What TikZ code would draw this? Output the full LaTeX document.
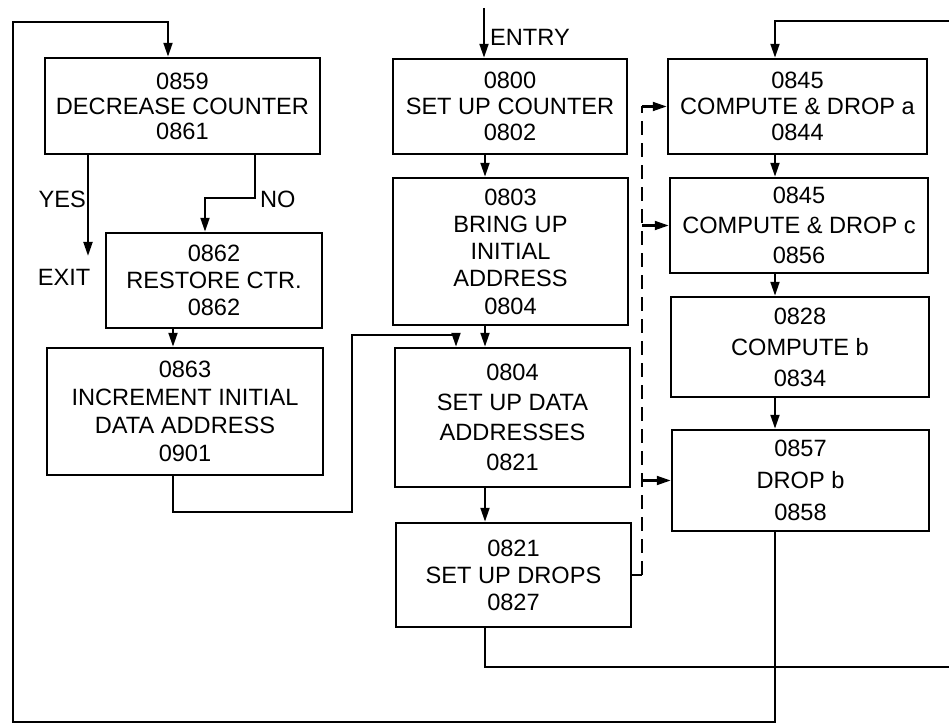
\documentclass[tikz,border=0pt]{standalone}
\usepackage{fontspec}
\setmainfont{Liberation Sans}
\usetikzlibrary{arrows.meta}

\begin{document}
\begin{tikzpicture}[x=0.5pt,y=-0.5pt,line width=1.2pt,>={Triangle[length=7pt,width=4.4pt]},
  blk/.style={draw,inner sep=0pt,align=center,font=\fontsize{11.8}{14}\selectfont},
  lbl/.style={inner sep=0pt,font=\fontsize{11.8}{14}\selectfont},
  bus/.style={line width=1.4pt,dash pattern=on 7pt off 4pt}]
  \useasboundingbox (0,0) rectangle (949,726);
  % left column
  \node[blk,minimum width=137.5pt,minimum height=48pt,font=\fontsize{11.8}{12.5}\selectfont] (b859) at (182.5,106) {0859\\DECREASE COUNTER\\0861};
  \node[blk,minimum width=108pt,minimum height=47.5pt,font=\fontsize{11.8}{13.5}\selectfont] (b862) at (214,280.5) {0862\\RESTORE CTR.\\0862};
  \node[blk,minimum width=138pt,minimum height=63.5pt] (b863) at (185,411.5) {0863\\INCREMENT INITIAL\\DATA ADDRESS\\0901};
  % middle column
  \node[blk,minimum width=117pt,minimum height=47.5pt,font=\fontsize{11.8}{13}\selectfont] (b800) at (510,106.5) {0800\\SET UP COUNTER\\0802};
  \node[blk,minimum width=117.5pt,minimum height=73.5pt,font=\fontsize{11.8}{13.6}\selectfont] (b803) at (510.5,251.5) {0803\\BRING UP\\INITIAL\\ADDRESS\\0804};
  \node[blk,minimum width=117.5pt,minimum height=69.5pt,font=\fontsize{11.8}{15}\selectfont] (b804) at (512.5,417.5) {0804\\SET UP DATA\\ADDRESSES\\0821};
  \node[blk,minimum width=117.5pt,minimum height=52pt,font=\fontsize{11.8}{13.5}\selectfont] (b821) at (513.5,575) {0821\\SET UP DROPS\\0827};
  % right column
  \node[blk,minimum width=129.5pt,minimum height=47.5pt,font=\fontsize{11.8}{13}\selectfont] (b845a) at (797.5,106.5) {0845\\COMPUTE \& DROP a\\0844};
  \node[blk,minimum width=129pt,minimum height=47.5pt,font=\fontsize{11.8}{15}\selectfont] (b845c) at (799,225.5) {0845\\COMPUTE \& DROP c\\0856};
  \node[blk,minimum width=129pt,minimum height=50pt,font=\fontsize{11.8}{15.5}\selectfont] (b828) at (800,347) {0828\\COMPUTE b\\0834};
  \node[blk,minimum width=128.5pt,minimum height=50.5pt,font=\fontsize{11.8}{16}\selectfont] (b857) at (800.5,480.5) {0857\\DROP b\\0858};

  \coordinate (entry) at (484,8);
  \coordinate (cm) at (485,0);
  \coordinate (rc) at (775,0);
  \coordinate (cl) at (173,0);
  \coordinate (bus) at (642,0);
  \coordinate (ent859) at (168,22);
  \coordinate (lp) at (13,722);
  \coordinate (rtop) at (949,21);
  \coordinate (rbot) at (949,667);
  \coordinate (exitpt) at (88,256);
  \coordinate (nobend) at (255,198);
  \coordinate (no2) at (205,198);
  \coordinate (jn) at (456,335);

  \draw[->] (entry) -- (entry |- b800.north);
  \node[lbl,anchor=west] (entrylbl) at (489,37) {ENTRY};
  \draw[->] (b800.south -| cm) -- (b803.north -| cm);
  \draw[->] (b803.south -| cm) -- (b804.north -| cm);
  \draw[->] (b804.south -| cm) -- (b821.north -| cm);
  \draw (b821.south -| cm) |- (rbot);

  \draw[->] (rtop) -| (b845a.north -| rc);
  \draw[->] (b845a.south -| rc) -- (b845c.north -| rc);
  \draw[->] (b845c.south -| rc) -- (b828.north -| rc);
  \draw[->] (b828.south -| rc) -- (b857.north -| rc);
  \draw[->] (b857.south -| rc) |- (lp) -- (lp |- ent859) -- (ent859) -- (ent859 |- b859.north);

  \draw (b821.east) -- (b821.east -| bus);
  \draw[bus] (b821.east -| bus) -- (b845a.west -| bus);
  \foreach \b in {b845a,b845c,b857}
    \draw[->] (\b.west -| bus) -- (\b.west);

  \draw[->] (b859.south -| exitpt) -- (exitpt);
  \node[lbl,anchor=east] (yes) at (87,199) {YES};
  \node[lbl] (exit) at (64,277) {EXIT};
  \draw[->] (b859.south -| nobend) -- (nobend) -- (no2) -- (no2 |- b862.north);
  \node[lbl,anchor=west] (no) at (259,199) {NO};
  \draw[->] (b862.south -| cl) -- (b863.north -| cl);
  \draw (b863.south -| cl) |- (352,512) |- (jn);
  \draw[->] (jn) -- (jn |- b804.north);
\end{tikzpicture}
\end{document}
